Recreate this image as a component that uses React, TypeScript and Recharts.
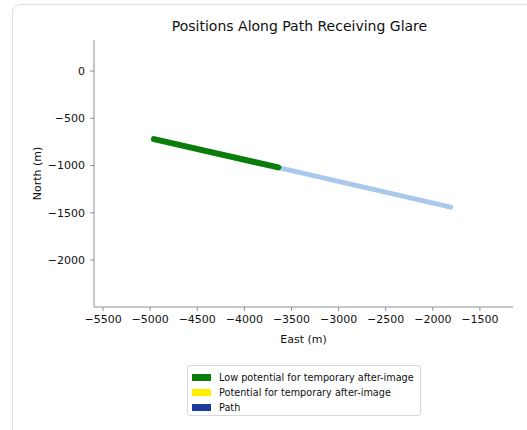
import { LineChart, Line, XAxis, YAxis } from "recharts";

const pathPoints = [
  { x: -4960, y: -720 },
  { x: -1810, y: -1440 },
];
const lowPotentialPoints = [
  { x: -4960, y: -720 },
  { x: -3640, y: -1020 },
];
const potentialPoints: { x: number; y: number }[] = [];

const xTicks = [-5500, -5000, -4500, -4000, -3500, -3000, -2500, -2000, -1500];
const yTicks = [0, -500, -1000, -1500, -2000];

const legendItems = [
  { label: "Low potential for temporary after-image", color: "#0a7d0a" },
  { label: "Potential for temporary after-image", color: "#ffee00" },
  { label: "Path", color: "#1a3a9c" },
];

const FONT = "'DejaVu Sans', sans-serif";
const minus = (v: number) => String(v).replace("-", "\u2212");

export default function App() {
  return (
    <div style={{ position: "absolute", left: 0, top: 0, width: 527, height: 430, background: "#fff", overflow: "hidden", fontFamily: FONT }}>
      <div style={{ position: "absolute", left: 12, top: 4, width: 540, height: 460, border: "1px solid #dde1e8", borderRadius: 8 }} />
      <div style={{ position: "absolute", left: 90, width: 419, top: 18, textAlign: "center", fontSize: 14, color: "#111", whiteSpace: "nowrap" }}>
        Positions Along Path Receiving Glare
      </div>
      <div style={{ position: "absolute", left: 0, top: 0 }}>
        <LineChart width={527} height={430} margin={{ top: 40, right: 14, left: 0, bottom: 87 }}>
          <XAxis
            type="number"
            dataKey="x"
            domain={[-5596, -1149]}
            ticks={xTicks}
            tickFormatter={minus}
            allowDataOverflow
            height={36}
            tickSize={4}
            tickMargin={4}
            stroke="#8a8f98"
            tick={{ fill: "#111", fontSize: 11, fontFamily: FONT }}
            label={{ value: "East (m)", position: "insideBottom", offset: 0, fill: "#111", fontSize: 11, fontFamily: FONT }}
          />
          <YAxis
            type="number"
            dataKey="y"
            domain={[-2497, 328]}
            ticks={yTicks}
            tickFormatter={minus}
            allowDataOverflow
            width={94}
            tickSize={4}
            tickMargin={5}
            stroke="#8a8f98"
            tick={{ fill: "#111", fontSize: 11, fontFamily: FONT }}
            label={{ value: "North (m)", angle: -90, position: "insideLeft", offset: 37, fill: "#111", fontSize: 11, fontFamily: FONT, style: { textAnchor: "middle" } }}
          />
          <Line data={pathPoints} dataKey="y" stroke="#a9c8ec" strokeWidth={5} strokeLinecap="round" dot={false} isAnimationActive={false} />
          <Line data={potentialPoints} dataKey="y" stroke="#ffee00" strokeWidth={6} dot={false} isAnimationActive={false} />
          <Line data={lowPotentialPoints} dataKey="y" stroke="#0a7d0a" strokeWidth={6} strokeLinecap="round" dot={false} isAnimationActive={false} />
        </LineChart>
      </div>
      <div style={{ position: "absolute", left: 187, top: 365, width: 232, height: 49, border: "1px solid #d4d8e0", borderRadius: 3, fontSize: 9.7, color: "#111" }}>
        {legendItems.map((it, i) => (
          <div key={i} style={{ position: "absolute", left: 4, top: 4 + i * 15, height: 14, display: "flex", alignItems: "center", whiteSpace: "nowrap" }}>
            <span style={{ display: "inline-block", width: 19, height: 7, background: it.color, marginRight: 8 }} />
            {it.label}
          </div>
        ))}
      </div>
    </div>
  );
}
